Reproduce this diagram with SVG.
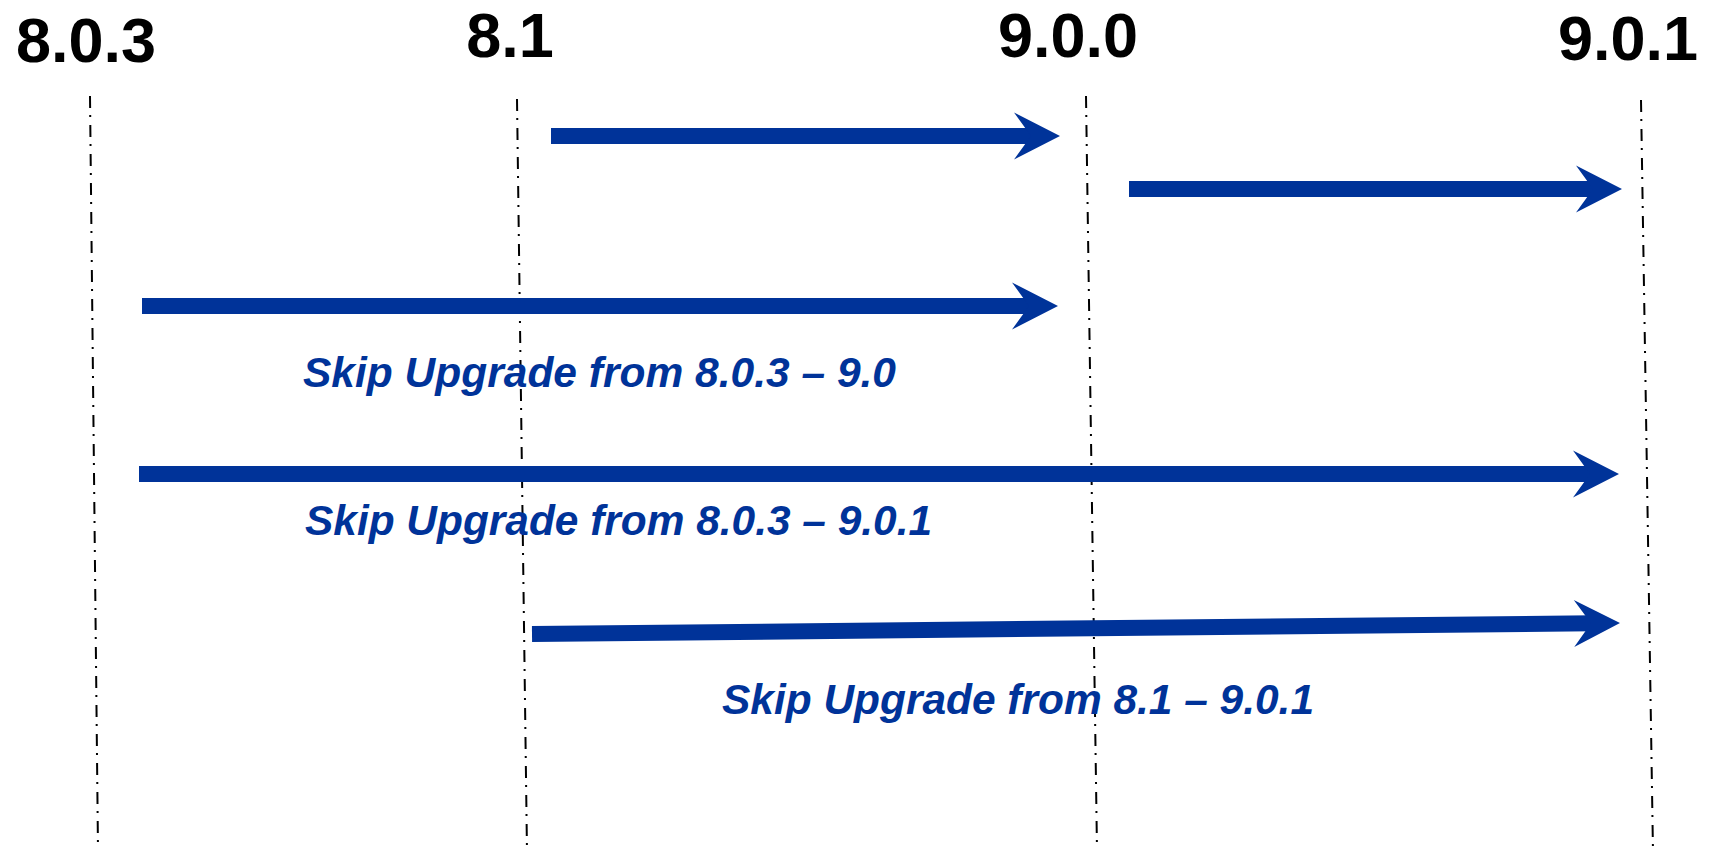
<svg xmlns="http://www.w3.org/2000/svg" width="1710" height="858" viewBox="0 0 1710 858">
  <defs>
    <marker id="head" markerUnits="userSpaceOnUse" markerWidth="60" markerHeight="60" refX="0" refY="0" orient="auto" overflow="visible" viewBox="-30 -30 60 60">
      <path d="M27,0 L-19,-23.5 L-2,0 L-19,23.5 Z" fill="#003399"/>
    </marker>
    <style>
      .ver { font-family: "Liberation Sans", Arial, sans-serif; font-weight: bold; font-size: 63px; fill: #000; text-anchor: middle; }
      .guide { stroke: #000; stroke-width: 2; stroke-dasharray: 12 7 2 8; fill: none; }
      .arrow { stroke: #003399; stroke-width: 16; fill: none; stroke-linecap: butt; marker-end: url(#head); }
      .lbl { font-family: "Liberation Sans", Arial, sans-serif; font-weight: bold; font-style: italic; font-size: 43px; fill: #003399; }
    </style>
  </defs>
  <rect width="1710" height="858" fill="#fff"/>

  <g id="v803">
    <line class="guide" x1="90" y1="96" x2="98" y2="850"/>
    <text class="ver" x="86" y="62">8.0.3</text>
  </g>
  <g id="v81">
    <line class="guide" x1="517" y1="99" x2="527" y2="852"/>
    <text class="ver" x="510" y="57">8.1</text>
  </g>
  <g id="v900">
    <line class="guide" x1="1086" y1="96" x2="1097" y2="850"/>
    <text class="ver" x="1068" y="57">9.0.0</text>
  </g>
  <g id="v901">
    <line class="guide" x1="1641" y1="100" x2="1653" y2="852"/>
    <text class="ver" x="1628" y="60">9.0.1</text>
  </g>

  <g id="connectors">
    <line class="arrow" x1="551" y1="136" x2="1033" y2="136"/>
    <line class="arrow" x1="1129" y1="189" x2="1595" y2="189"/>
    <line class="arrow" x1="142" y1="306" x2="1031" y2="306"/>
    <line class="arrow" x1="139" y1="474" x2="1592" y2="474"/>
    <line class="arrow" x1="532" y1="634" x2="1593" y2="623.27"/>
    <text class="lbl" x="303" y="387" textLength="593" lengthAdjust="spacingAndGlyphs">Skip Upgrade from 8.0.3 – 9.0</text>
    <text class="lbl" x="305" y="535" textLength="627" lengthAdjust="spacingAndGlyphs">Skip Upgrade from 8.0.3 – 9.0.1</text>
    <text class="lbl" x="722" y="714" textLength="592" lengthAdjust="spacingAndGlyphs">Skip Upgrade from 8.1 – 9.0.1</text>
  </g>
</svg>
